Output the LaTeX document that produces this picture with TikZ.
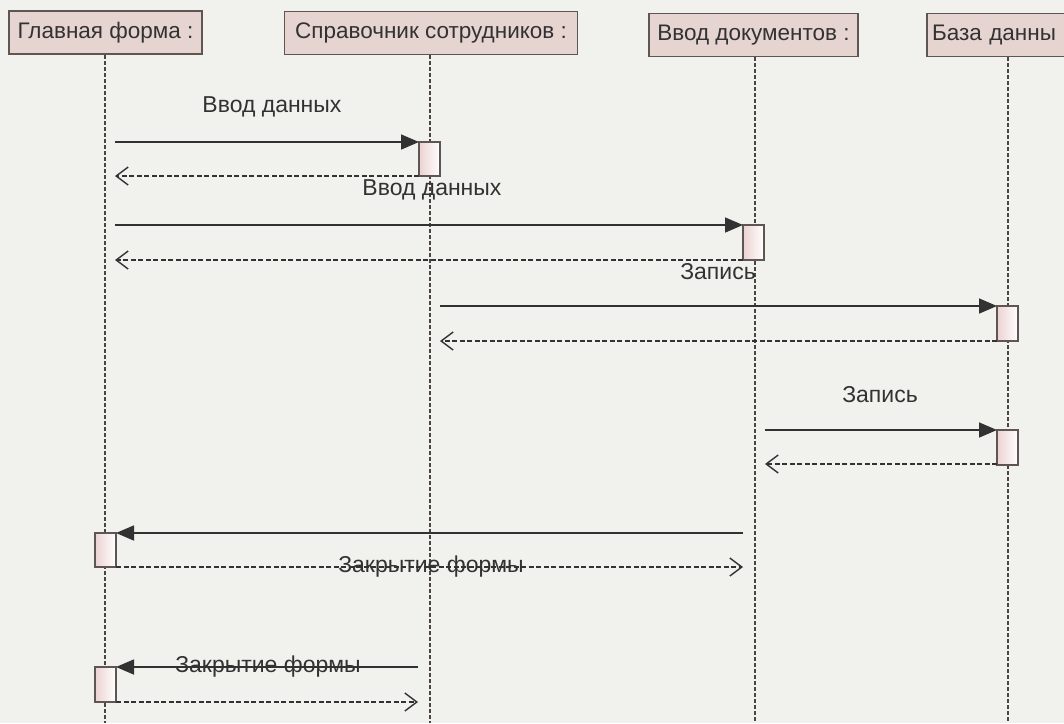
\documentclass[tikz,border=0pt]{standalone}
\usepackage{fontspec}
\setmainfont{Liberation Sans}
\usetikzlibrary{arrows.meta}
\definecolor{paper}{RGB}{241,241,238}
\definecolor{headfill}{RGB}{230,212,208}
\definecolor{edge}{RGB}{95,85,83}
\definecolor{ink}{RGB}{50,50,50}
\definecolor{actfill}{RGB}{236,210,210}
\tikzset{
  header/.style={draw=edge, line width=1.5pt, fill=headfill, minimum height=43pt,
    inner sep=0pt, text=ink, font=\fontsize{22.5}{22.5}\selectfont},
  lifeline/.style={draw=edge!80!black, line width=1.2pt, dash pattern=on 4pt off 2pt},
  actbox/.style={draw=edge, line width=1.3pt, left color=actfill, right color=white,
    minimum width=21pt, inner sep=0pt, outer sep=0pt},
  call/.style={draw=ink, line width=1.6pt, -{Triangle[length=18pt,width=15pt]}},
  reply/.style={draw=ink, line width=1.4pt, dash pattern=on 5pt off 2.5pt,
    -{Straight Barb[length=12pt,width=18pt,line width=1.4pt]}},
  msglabel/.style={text=ink, font=\fontsize{23}{23}\selectfont, inner sep=0pt},
}
\begin{document}
\begin{tikzpicture}[x=1pt, y=-1pt]
  \useasboundingbox (0,0) rectangle (1064,723);
  \fill[paper] (0,0) rectangle (1064,723);
  \clip (0,0) rectangle (1064,723);

  % object headers
  \node[header, minimum width=193pt] (main) at (105.5,32.5) {Главная форма :};
  \node[header, minimum width=293pt] (staff) at (431,33) {Справочник сотрудников :};
  \node[header, minimum width=209pt] (docs) at (753.5,35) {Ввод документов :};
  \node[header, minimum width=170pt, text width=160pt, align=left] (db) at (1012,35) {База данны};

  % lifelines
  \coordinate (mainEnd) at (105,723);
  \coordinate (staffEnd) at (430,723);
  \coordinate (docsEnd) at (755,723);
  \coordinate (dbEnd) at (1008,723);
  \draw[lifeline] (main.south -| mainEnd) -- (mainEnd);
  \draw[lifeline] (staff.south -| staffEnd) -- (staffEnd);
  \draw[lifeline] (docs.south -| docsEnd) -- (docsEnd);
  \draw[lifeline] (db.south -| dbEnd) -- (dbEnd);

  % activation bars
  \node[actbox, minimum height=34pt] (a1) at (429.5,159) {};
  \node[actbox, minimum height=35pt] (a2) at (753.5,242.5) {};
  \node[actbox, minimum height=35pt] (a3) at (1007.5,323.5) {};
  \node[actbox, minimum height=35pt] (a4) at (1007.5,447.5) {};
  \node[actbox, minimum height=34pt] (a5) at (105.5,550) {};
  \node[actbox, minimum height=35pt] (a6) at (105.5,684.5) {};

  % message end points on the lifelines
  \coordinate (s1) at (115,142);
  \coordinate (e1) at (115,176);
  \coordinate (s2) at (115,225);
  \coordinate (e2) at (115,260);
  \coordinate (s3) at (440,306);
  \coordinate (e3) at (440,341);
  \coordinate (s4) at (765,430);
  \coordinate (e4) at (765,464);
  \coordinate (s5) at (743,533);
  \coordinate (e5) at (743,567);
  \coordinate (s6) at (418,667);
  \coordinate (e6) at (418,702);

  % messages and replies
  \draw[call] (s1) -- (s1 -| a1.west);
  \draw[reply] (e1 -| a1.west) -- (e1);
  \draw[call] (s2) -- (s2 -| a2.west);
  \draw[reply] (e2 -| a2.west) -- (e2);
  \draw[call] (s3) -- (s3 -| a3.west);
  \draw[reply] (e3 -| a3.west) -- (e3);
  \draw[call] (s4) -- (s4 -| a4.west);
  \draw[reply] (e4 -| a4.west) -- (e4);
  \draw[call] (s5) -- (s5 -| a5.east);
  \draw[reply] (e5 -| a5.east) -- (e5);
  \draw[call] (s6) -- (s6 -| a6.east);
  \draw[reply] (e6 -| a6.east) -- (e6);

  % message labels
  \node[msglabel] (l1) at (272,107) {Ввод данных};
  \node[msglabel] (l2) at (432,190) {Ввод данных};
  \node[msglabel] (l3) at (718,272) {Запись};
  \node[msglabel] (l4) at (880,395) {Запись};
  \node[msglabel] (l5) at (431,567) {Закрытие формы};
  \node[msglabel] (l6) at (268,667) {Закрытие формы};
\end{tikzpicture}
\end{document}
